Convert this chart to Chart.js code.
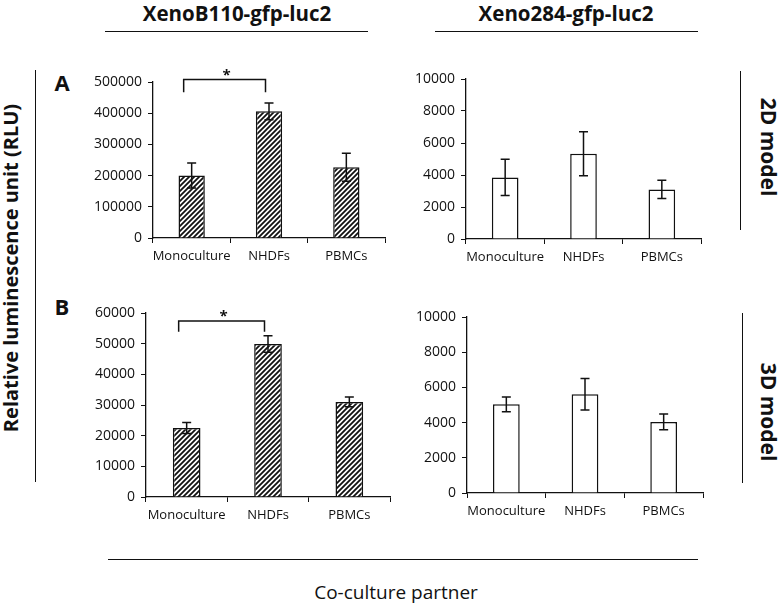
<!DOCTYPE html>
<html lang="en">
<head>
<meta charset="UTF-8" />
<title>Co-culture luminescence</title>
<script src="https://cdn.jsdelivr.net/npm/chart.js"></script>
<style>
  body { margin: 0; background: #fff; font-family: "Open Sans", sans-serif; color: #111; }
  #page { position: relative; width: 778px; height: 603px; overflow: hidden; }
  .box { position: absolute; }
  .t { position: absolute; white-space: nowrap; line-height: 1; transform: translate(-50%, -50%); }
  .b { font-weight: bold; }
  .hl { position: absolute; height: 1.3px; background: #111; }
  .vl { position: absolute; width: 1.3px; background: #111; }
</style>
</head>
<body>
<div id="page">
  <div class="t b" style="left:237px; top:13px; font-size:20.5px;">XenoB110-gfp-luc2</div>
  <div class="t b" style="left:566px; top:13px; font-size:20.5px;">Xeno284-gfp-luc2</div>
  <div class="hl" style="left:105px; top:31px; width:263px;"></div>
  <div class="hl" style="left:435px; top:31px; width:263px;"></div>

  <div class="t b" style="left:62px; top:82px; font-size:22px;">A</div>
  <div class="t b" style="left:62px; top:306px; font-size:22px;">B</div>

  <div class="t b" style="left:11px; top:268px; font-size:20px; transform: translate(-50%, -50%) rotate(-90deg);">Relative luminescence unit (RLU)</div>
  <div class="vl" style="left:35px; top:70px; height:412px;"></div>

  <div class="t b" style="left:768px; top:147px; font-size:21px; transform: translate(-50%, -50%) rotate(90deg);">2D model</div>
  <div class="vl" style="left:740px; top:71px; height:159px;"></div>
  <div class="t b" style="left:768px; top:412px; font-size:21px; transform: translate(-50%, -50%) rotate(90deg);">3D model</div>
  <div class="vl" style="left:742px; top:313px; height:170px;"></div>

  <div class="hl" style="left:108px; top:559px; width:590px;"></div>
  <div class="t" style="left:396px; top:592px; font-size:19px;">Co-culture partner</div>

  <div class="box" style="left:78px; top:58px;"><canvas id="tl" width="310" height="214"></canvas></div>
  <div class="box" style="left:391px; top:55px;"><canvas id="tr" width="313" height="218"></canvas></div>
  <div class="box" style="left:71px; top:289px;"><canvas id="bl" width="322" height="242"></canvas></div>
  <div class="box" style="left:392px; top:293px;"><canvas id="br" width="314" height="234"></canvas></div>
</div>

<script>
  const categories = ['Monoculture', 'NHDFs', 'PBMCs'];

  // XenoB110 (hatched), 2D and 3D
  const b110_2d = [200000, 406000, 227000];
  const b110_2d_err = [40000, 27000, 45000];
  const b110_3d = [22500, 49900, 31000];
  const b110_3d_err = [1800, 2700, 1600];

  // Xeno284 (open bars), 2D and 3D
  const x284_2d = [3850, 5330, 3100];
  const x284_2d_err = [1130, 1370, 570];
  const x284_3d = [5040, 5610, 4040];
  const x284_3d_err = [420, 900, 450];

  // y axis max / step per panel: tl, tr, bl, br
  const yMax = [500000, 10000, 60000, 10000];
  const yStep = [100000, 2000, 10000, 2000];

  // significance bracket (top of bracket, bottom of legs) in axis units
  const sig_2d = [508000, 467000];
  const sig_3d = [57400, 53900];

  const INK = '#111';

  function hatch() {
    const c = document.createElement('canvas');
    c.width = 5; c.height = 5;
    const g = c.getContext('2d');
    g.fillStyle = '#fff';
    g.fillRect(0, 0, 5, 5);
    g.strokeStyle = INK;
    g.lineWidth = 1.8;
    g.beginPath();
    g.moveTo(0, 5); g.lineTo(5, 0);
    g.moveTo(-2.5, 2.5); g.lineTo(2.5, -2.5);
    g.moveTo(2.5, 7.5); g.lineTo(7.5, 2.5);
    g.stroke();
    return g.createPattern(c, 'repeat');
  }

  const errorBars = {
    id: 'errorBars',
    afterDatasetsDraw(chart, args, opts) {
      const { ctx } = chart;
      const y = chart.scales.y;
      const vals = chart.data.datasets[0].data;
      const bars = chart.getDatasetMeta(0).data;
      ctx.save();
      ctx.strokeStyle = INK;
      ctx.lineWidth = 1.5;
      bars.forEach((bar, i) => {
        const hi = y.getPixelForValue(vals[i] + opts.errors[i]);
        const lo = y.getPixelForValue(vals[i] - opts.errors[i]);
        ctx.beginPath();
        ctx.moveTo(bar.x, hi); ctx.lineTo(bar.x, lo);
        ctx.moveTo(bar.x - 4.5, hi); ctx.lineTo(bar.x + 4.5, hi);
        ctx.moveTo(bar.x - 4.5, lo); ctx.lineTo(bar.x + 4.5, lo);
        ctx.stroke();
      });
      if (opts.sig) {
        const x0 = bars[0].x - 8, x1 = bars[1].x - 3.5;
        const top = y.getPixelForValue(opts.sig[0]);
        const leg = y.getPixelForValue(opts.sig[1]);
        ctx.lineWidth = 1.5;
        ctx.beginPath();
        ctx.moveTo(x0, leg); ctx.lineTo(x0, top); ctx.lineTo(x1, top); ctx.lineTo(x1, leg);
        ctx.stroke();
        ctx.fillStyle = INK;
        ctx.font = 'bold 15px "Open Sans"';
        ctx.textAlign = 'center';
        ctx.textBaseline = 'alphabetic';
        ctx.fillText('*', (x0 + x1) / 2 + 2, top);
      }
      ctx.restore();
    }
  };

  function makeChart(id, values, errs, max, step, fill, sig) {
    new Chart(document.getElementById(id), {
      type: 'bar',
      data: {
        labels: categories,
        datasets: [{
          data: values,
          backgroundColor: fill,
          borderColor: INK,
          borderWidth: 1.5,
          barPercentage: 0.34,
          categoryPercentage: 1
        }]
      },
      options: {
        responsive: false,
        animation: false,
        layout: { padding: { top: 24, right: 3, left: 0, bottom: 0 } },
        plugins: {
          legend: { display: false },
          tooltip: { enabled: false },
          errorBars: { errors: errs, sig: sig }
        },
        scales: {
          x: {
            offset: true,
            grid: { offset: true, drawOnChartArea: false, tickLength: 5, color: INK },
            border: { color: INK, width: 1.3 },
            ticks: { color: INK, font: { family: 'Open Sans', size: 13 }, padding: 5, maxRotation: 0, autoSkip: false },
            afterFit: s => { s.height = 34; }
          },
          y: {
            min: 0, max: max,
            ticks: { stepSize: step, color: INK, font: { family: 'Open Sans', size: 14 }, padding: 6, callback: v => String(v) },
            grid: { drawOnChartArea: false, tickLength: 5, color: INK },
            border: { color: INK, width: 1.3 },
            afterFit: s => { s.width = 75; }
          }
        }
      },
      plugins: [errorBars]
    });
  }

  const hatched = hatch();
  makeChart('tl', b110_2d, b110_2d_err, yMax[0], yStep[0], hatched, sig_2d);
  makeChart('tr', x284_2d, x284_2d_err, yMax[1], yStep[1], '#fff', null);
  makeChart('bl', b110_3d, b110_3d_err, yMax[2], yStep[2], hatched, sig_3d);
  makeChart('br', x284_3d, x284_3d_err, yMax[3], yStep[3], '#fff', null);
</script>
</body>
</html>
